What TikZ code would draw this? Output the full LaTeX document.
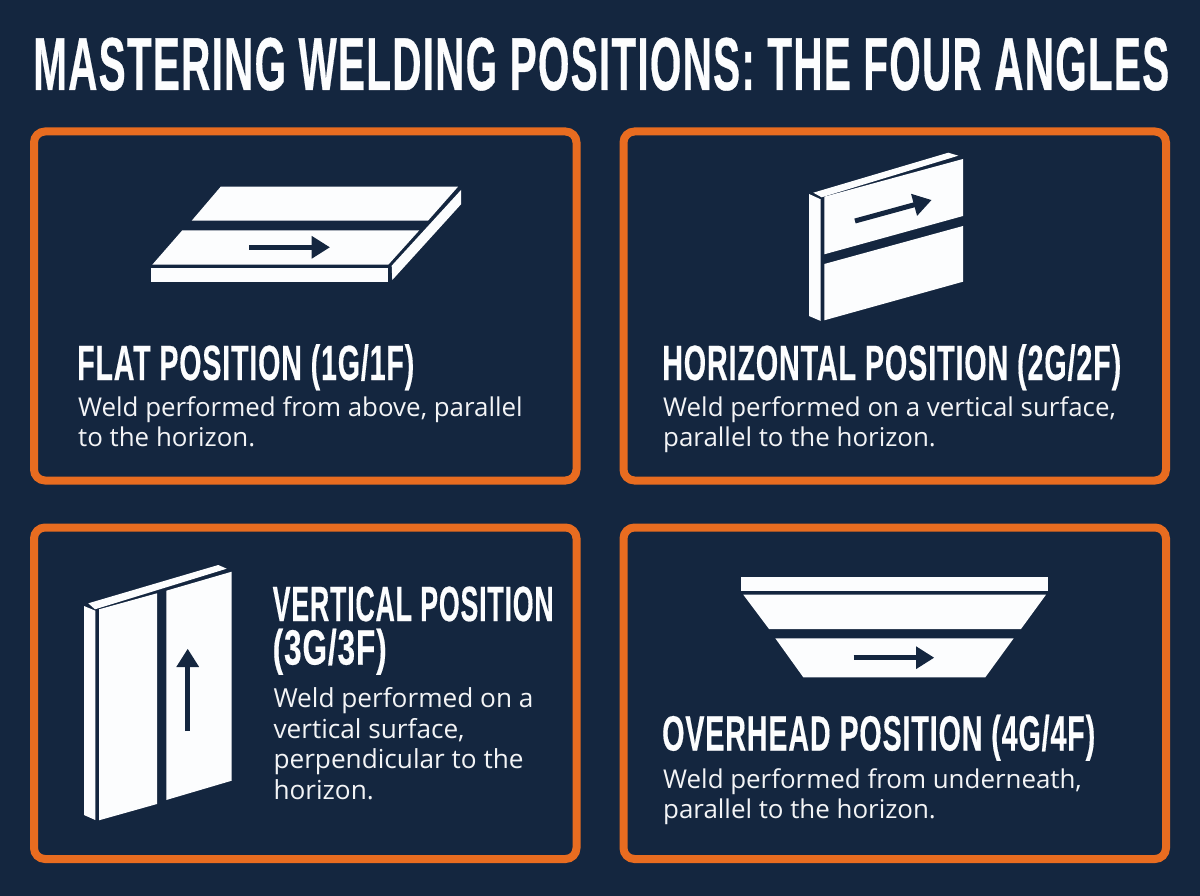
\documentclass[tikz,border=0pt]{standalone}
\usepackage{fontspec}
\usepackage{graphicx}
\usetikzlibrary{arrows.meta}
\setmainfont{Open Sans}
\newfontfamily\headfont[FakeBold=0.5,LetterSpace=3]{Liberation Sans Bold}
\newfontfamily\bodyfont{Open Sans}
\definecolor{navy}{HTML}{14263F}
\definecolor{edge}{HTML}{E86C20}
\definecolor{plate}{HTML}{FCFDFE}
\newsavebox\fitbox
\newcommand\fitw[2]{\sbox\fitbox{#2}\pgfmathsetmacro\fitr{#1/\wd\fitbox}\scalebox{\fitr}[1]{\usebox\fitbox}}
\tikzset{
  card/.style={draw=edge,line width=8pt,rounded corners=11pt},
  plt/.style={fill=plate},
  weld/.style={draw=navy,line width=5pt,-{Triangle[length=18.3pt,width=21.5pt]},shorten >=0pt},
  titletext/.style={inner sep=0pt,anchor=base west,text=plate,font=\headfont\fontsize{75}{75}\selectfont},
  headtext/.style={inner sep=0pt,anchor=base west,align=left,text=plate,font=\headfont\fontsize{49.5}{43.5}\selectfont},
  bodytext/.style={inner sep=0pt,anchor=base west,align=left,text=plate!96!navy,font=\bodyfont\fontsize{25.9}{30}\selectfont},
  bodywide/.style={bodytext,font=\bodyfont\fontsize{26.2}{30.6}\selectfont},
}
\begin{document}
\begin{tikzpicture}[x=1pt,y=-1pt]
\useasboundingbox (0,0) rectangle (1200,896);
\fill[navy] (0,0) rectangle (1200,896);
\node[titletext] (title) at (33,90) {\fitw{1136pt}{MASTERING WELDING POSITIONS: THE FOUR ANGLES}};
% cards
\draw[card] (34,131.5) rectangle (576.5,480.5);
\draw[card] (623.5,131.5) rectangle (1166,480.5);
\draw[card] (34,527.5) rectangle (576.5,859);
\draw[card] (623.5,527.5) rectangle (1166,859);
% flat
\fill[plt] (220.7,186.7) -- (458,186.7) -- (428,220.7) -- (191.7,220.7) -- cycle;
\fill[plt] (182.3,230.3) -- (419.3,230.3) -- (388.3,264.7) -- (152.3,264.7) -- cycle;
\fill[plt] (150.7,268.3) rectangle (388.3,282);
\fill[plt] (391.7,265.7) -- (461,190) -- (461,204.3) -- (392.3,280) -- cycle;
\coordinate (fa) at (249.3,247.3); \coordinate (fb) at (330,247.3);
\draw[weld] (fa) -- (fb);
% horizontal
\fill[plt] (948.3,152.7) -- (958.3,155.7) -- (821.7,197.3) -- (813.3,192.7) -- cycle;
\fill[plt] (809,194) -- (820.7,199.3) -- (820.7,321) -- (809,316) -- cycle;
\fill[plt] (824.3,196.7) -- (963,159) -- (963,216) -- (824.3,254.3) -- cycle;
\fill[plt] (824.3,264) -- (963,226) -- (963,281.7) -- (824.3,320.3) -- cycle;
\coordinate (ha) at (855,221); \coordinate (hb) at (931.7,200);
\draw[weld] (ha) -- (hb);
% vertical
\fill[plt] (218.3,565) -- (226.7,568.7) -- (95,609.3) -- (88.3,603.3) -- cycle;
\fill[plt] (84,606) -- (95.3,610.7) -- (95.3,820) -- (84,815) -- cycle;
\fill[plt] (99,609.3) -- (157,593.3) -- (157,804) -- (99,820.3) -- cycle;
\fill[plt] (166.3,590.7) -- (231.7,571.7) -- (231.7,780.7) -- (166.3,800) -- cycle;
\coordinate (va) at (187.7,731); \coordinate (vb) at (187.7,648.7);
\draw[weld] (va) -- (vb);
% overhead
\fill[plt] (740.7,576.7) rectangle (1048.3,590.7);
\fill[plt] (743.3,594.7) -- (1046,594.7) -- (1021,629) -- (769,629) -- cycle;
\fill[plt] (775.3,638.3) -- (1013.7,638.3) -- (985.3,677.3) -- (803.3,677.3) -- cycle;
\coordinate (oa) at (853.7,657.7); \coordinate (ob) at (934.3,657.7);
\draw[weld] (oa) -- (ob);
% text
\node[headtext] (h1) at (77,380) {\fitw{337pt}{FLAT POSITION (1G/1F)}};
\node[bodytext] (b1) at (78,446.7) {Weld performed from above, parallel\\to the horizon.};
\node[headtext] (h2) at (662,380) {\fitw{459pt}{HORIZONTAL POSITION (2G/2F)}};
\node[bodytext] (b2) at (663,446.7) {Weld performed on a vertical surface,\\parallel to the horizon.};
\node[headtext] (h3) at (272.5,664.5) {\fitw{281pt}{VERTICAL POSITION}\\\fitw{114pt}{(3G/3F)}};
\node[bodywide] (b3) at (273.3,799.3) {Weld performed on a\\vertical surface,\\perpendicular to the\\horizon.};
\node[headtext] (h4) at (662,750.5) {\fitw{433pt}{OVERHEAD POSITION (4G/4F)}};
\node[bodytext] (b4) at (663,818.3) {Weld performed from underneath,\\parallel to the horizon.};
\end{tikzpicture}
\end{document}
